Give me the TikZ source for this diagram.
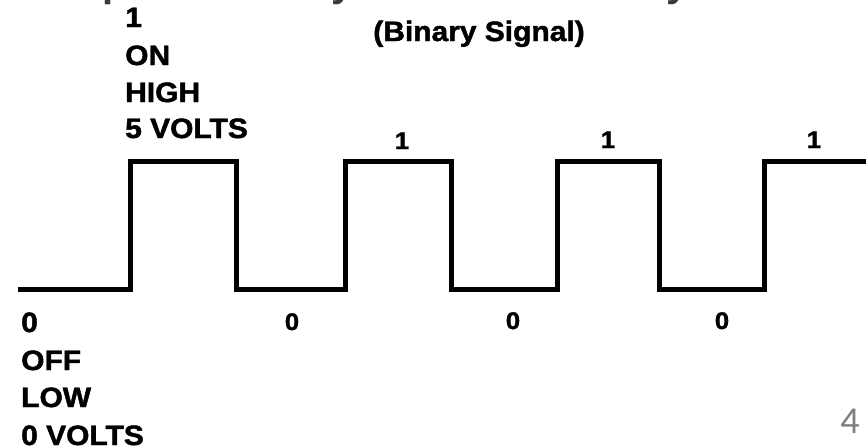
\documentclass[tikz,border=0pt]{standalone}
\usepackage{fontspec}
\setmainfont{Liberation Sans}
\newfontfamily\heavyfont[FakeStretch=1.07,FakeBold=1.6]{Liberation Sans Bold}
\newfontfamily\pagefont{Carlito}
\definecolor{fragc}{HTML}{3A3A3A}
\definecolor{pagec}{HTML}{7F7F7F}
\begin{document}
\begin{tikzpicture}[x=1pt,y=-1pt,
  wave/.style={line width=5pt, line join=miter, black},
  biglbl/.style={font=\heavyfont\fontsize{28}{28}\selectfont, inner sep=0pt, anchor=base west},
  bitlbl/.style={font=\heavyfont\fontsize{24}{24}\selectfont, inner sep=0pt, anchor=base},
  frag/.style={font=\fontsize{40}{40}\selectfont\bfseries, text=fragc, inner sep=0pt, anchor=base west}]
\useasboundingbox (0,0) rectangle (866,445);
\fill[white] (0,0) rectangle (866,445);
% cut-off title descenders
\begin{scope}
  \clip (0,0) rectangle (866,6);
  \node[frag] (fp) at (102,-3.5) {p};
  \node[frag] (fy1) at (331,-3.5) {y};
  \node[frag] (fy2) at (666,-3.5) {y};
\end{scope}
% waveform
\coordinate (w0) at (18,289);
\draw[wave] (w0) -- (130,289) -- (130,161) -- (236,161) -- (236,289) -- (345,289)
  -- (345,161) -- (451,161) -- (451,289) -- (557,289) -- (557,161) -- (659,161)
  -- (659,289) -- (764,289) -- (764,161) -- (866,161);
% title
\node[biglbl, anchor=base] (title) at (479,41) {(Binary Signal)};
% high labels
\node[biglbl] (h1) at (125,27) {1};
\node[biglbl] (h2) at (125,65) {ON};
\node[biglbl] (h3) at (125,102) {HIGH};
\node[biglbl] (h4) at (125,138) {5 VOLTS};
% low labels
\node[biglbl] (l1) at (21,332) {0};
\node[biglbl] (l2) at (21,370) {OFF};
\node[biglbl] (l3) at (21,407) {LOW};
\node[biglbl] (l4) at (21,445) {0 VOLTS};
% bit labels
\node[bitlbl] (b1) at (402,149) {1};
\node[bitlbl] (b2) at (608,148) {1};
\node[bitlbl] (b3) at (814,148) {1};
\node[bitlbl] (z1) at (292,330) {0};
\node[bitlbl] (z2) at (513,329) {0};
\node[bitlbl] (z3) at (722,329) {0};
% page number
\node[font=\pagefont\fontsize{38}{38}\selectfont, text=pagec, inner sep=0pt, anchor=base] (pg) at (850,433) {4};
\end{tikzpicture}
\end{document}
